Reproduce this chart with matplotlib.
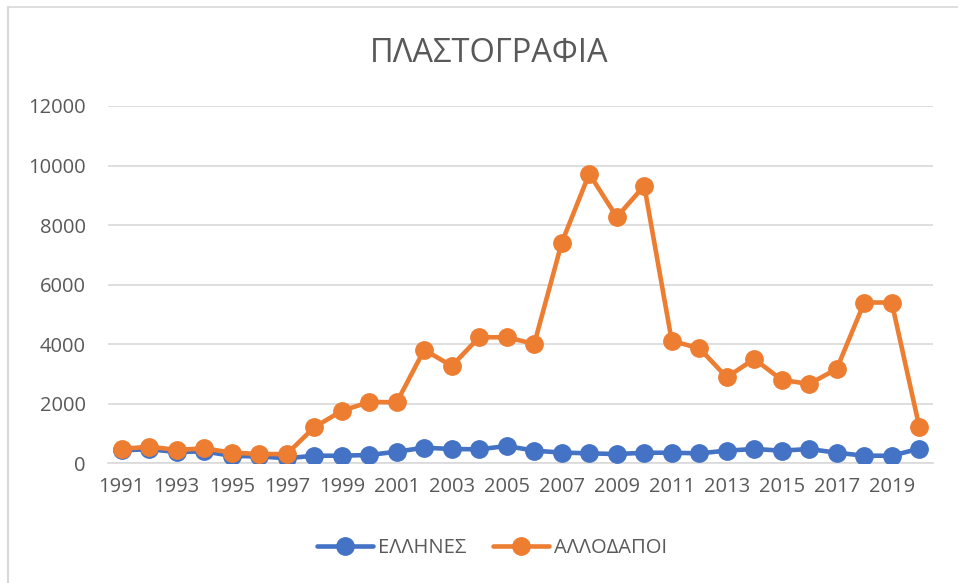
import matplotlib
matplotlib.use("Agg")
import matplotlib.pyplot as plt
from matplotlib.lines import Line2D

years = list(range(1991, 2021))
tick_years = list(range(1991, 2021, 2))

# ΕΛΛΗΝΕΣ
greeks = [440, 470, 380, 400, 250, 230, 170, 255, 255, 280,
          390, 525, 480, 470, 580, 425, 360, 335, 310, 355,
          355, 335, 425, 480, 425, 480, 355, 255, 255, 490]

# ΑΛΛΟΔΑΠΟΙ
foreigners = [480, 560, 450, 500, 360, 310, 310, 1210, 1760, 2060,
              2050, 3810, 3270, 4235, 4230, 4010, 7410, 9725, 8270, 9320,
              4110, 3865, 2890, 3505, 2800, 2665, 3170, 5400, 5400, 1230]

y_ticks = [0, 2000, 4000, 6000, 8000, 10000, 12000]

plt.rcParams["font.family"] = ["Open Sans", "DejaVu Sans"]
text_color = "#595959"

fig = plt.figure(figsize=(9.58, 5.83), dpi=100)
W, H = 958, 583
ax = fig.add_axes([108 / W, 1 - 463.3 / H, (933 - 108) / W, (463.3 - 106) / H])

ax.plot(years, greeks, "o-", color="#4472C4", lw=3.3, ms=12.5, label="ΕΛΛΗΝΕΣ",
        solid_capstyle="round", zorder=3)
ax.plot(years, foreigners, "o-", color="#ED7D31", lw=3.3, ms=12.5, label="ΑΛΛΟΔΑΠΟΙ",
        solid_capstyle="round", zorder=4)

ax.set_xlim(1990.5, 2020.5)
ax.set_ylim(0, 12000)
ax.set_xticks(tick_years)
ax.set_yticks(y_ticks)
ax.tick_params(axis="both", length=0, labelsize=14.5, colors=text_color)
ax.tick_params(axis="x", pad=10)
ax.tick_params(axis="y", pad=16)
ax.grid(axis="y", color="#D9D9D9", lw=1.2)
ax.set_axisbelow(True)
for s in ["top", "right", "left"]:
    ax.spines[s].set_visible(False)
ax.spines["bottom"].set_color("#D9D9D9")
ax.spines["bottom"].set_linewidth(1.2)

fig.text(489 / W, 1 - 53 / H, "ΠΛΑΣΤΟΓΡΑΦΙΑ", ha="center", va="center",
         fontsize=23.5, color=text_color)

fig.legend(loc="center", bbox_to_anchor=(492 / W, 1 - 548 / H), ncol=2,
           frameon=False, fontsize=14.5, labelcolor=text_color,
           handlelength=2.8, columnspacing=1.3, handletextpad=0.25)

# chart border (only top and left edges visible in the crop)
fig.add_artist(Line2D([7.5 / W, 7.5 / W], [0, 1 - 7 / H], color="#D9D9D9", lw=1.5))
fig.add_artist(Line2D([7.5 / W, 1], [1 - 7 / H, 1 - 7 / H], color="#D9D9D9", lw=1.2))

fig.savefig("out.png", dpi=100)
